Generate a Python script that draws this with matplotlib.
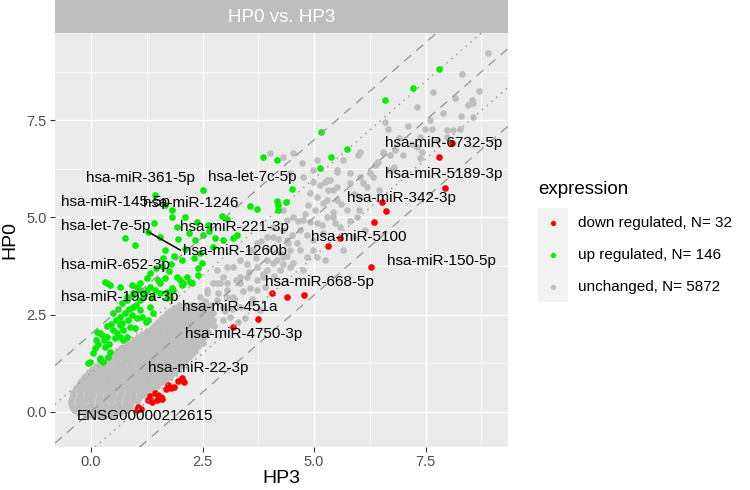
import matplotlib
matplotlib.use("Agg")
import matplotlib.pyplot as plt
from matplotlib.patches import Rectangle
from matplotlib.lines import Line2D

plt.rcParams["font.family"] = ["Liberation Sans", "DejaVu Sans"]

# ── Data (log2 expression, HP3 on x, HP0 on y) ─────────────
groups = ["down regulated", "up regulated", "unchanged"]
group_n = [32, 146, 5872]
group_colors = ["#FF0000", "#00EE00", "#BEBEBE"]

down_x = [8.09, 7.80, 7.94, 6.52, 6.61, 6.35, 5.58, 5.31, 6.28, 4.06, 4.39, 4.78,
          3.74, 3.18,
          2.04, 2.09, 1.95, 1.73, 1.79, 1.86, 1.68, 1.43, 1.50, 1.57, 1.48, 1.59,
          1.32, 1.28, 1.37, 1.05, 1.12, 1.03]
down_y = [6.92, 6.56, 5.76, 5.40, 5.17, 4.88, 4.47, 4.27, 3.72, 3.05, 2.95, 3.00,
          2.38, 2.18,
          0.86, 0.76, 0.79, 0.68, 0.61, 0.63, 0.58, 0.48, 0.43, 0.37, 0.30, 0.32,
          0.40, 0.30, 0.24, 0.12, 0.06, 0.04]

up_x = [7.80, 7.22, 6.59, 5.16, 5.74, 5.38, 5.13, 3.86, 4.17,
        4.51, 4.17, 4.19, 4.19, 4.37, 3.57, 3.72,
        2.51, 1.43, 1.66, 1.82, 1.82, 2.94, 2.38, 1.93, 2.62,
        1.28, 0.76, 2.51, 2.78, 2.33, 2.96, 3.18, 3.27,
        0.99, 1.66, 2.74, 2.44, 2.04, 1.61, 2.49, 2.40,
        1.32, 1.66, 1.93, 2.00, 2.15, 2.26, 2.04, 2.40, 1.26,
        0.31, 0.43, 0.65, 0.92, 1.03, 1.10, 0.94, 1.26, 1.43, 1.55, 1.70, 1.82,
        1.37, 1.10, 0.81, 0.70, 1.70, 1.84,
        0.36, 1.10, 1.32, 1.55, 2.06, 2.22, 0.81, 1.17, 1.77,
        0.94, 1.10, 1.32, 0.92, 1.14, 1.39, 1.28,
        0.65, 0.70, 0.49, 0.72, 0.87, 0.13, 0.25, 0.54, 0.72, 0.31, 0.43, 0.38,
        0.20, -0.02, 0.27, 0.65, 0.81,
        -0.07, 0.20, 0.09, 0.20, 0.36, 0.58, 0.65, 0.83, 1.03,
        0.05, 0.15, 0.30, 0.45, 0.55, 0.75, 0.85, 1.00, 0.60, 0.50, 0.35, 0.95,
        1.20, 1.50, 1.45, 1.60, 1.80, 1.85, 2.10, 2.20, 1.95, 1.55, 1.40, 2.10,
        0.10, 0.40, 0.98, 1.22, 2.30, 2.65, 3.05, 1.75]
up_y = [8.83, 8.34, 8.03, 7.20, 6.77, 6.56, 6.28, 6.56, 6.48,
        5.73, 5.43, 5.32, 5.19, 5.40, 5.30, 5.22,
        5.71, 5.58, 5.32, 5.19, 5.01, 5.04, 4.88, 4.75, 4.81,
        4.63, 4.47, 4.55, 4.47, 4.42, 4.42, 4.47, 4.55,
        4.29, 4.16, 4.24, 4.09, 3.90, 3.96, 3.83, 3.70,
        3.57, 3.44, 3.47, 3.39, 3.47, 3.31, 3.26, 3.52, 3.44,
        3.34, 3.26, 3.21, 3.26, 3.21, 3.13, 3.05, 3.13, 3.13, 3.05, 3.08, 3.18,
        2.95, 2.87, 2.87, 2.80, 2.93, 3.13,
        3.31, 3.31, 3.21, 3.31, 3.31, 3.34, 2.95, 2.95, 2.95,
        2.69, 2.62, 2.69, 2.49, 2.44, 2.54, 2.36,
        2.44, 2.28, 2.10, 2.10, 2.18, 2.05, 1.97, 1.89, 1.84, 1.66, 1.53, 1.40,
        1.38, 1.28, 1.28, 1.92, 1.92,
        1.25, 1.33, 1.64, 2.02, 1.92, 2.02, 2.23, 2.36, 2.41,
        1.50, 1.75, 1.85, 2.25, 2.35, 2.55, 2.65, 2.75, 2.65, 2.55, 2.20, 3.00,
        3.05, 3.40, 3.70, 3.75, 3.80, 4.00, 4.20, 4.60, 4.45, 4.50, 4.85, 5.00,
        1.85, 1.75, 2.15, 2.30, 3.95, 4.65, 4.95, 3.62]

# dense part of the unchanged cloud, read row by row (HP0 level, HP3 values)
cloud_rows = [
    (-0.10, [-0.12, 0.02, 0.17, 0.31, 0.47]),
    (-0.02, [-0.30, -0.15, 0.00, 0.10, 0.25, 0.40, 0.55, 0.68]),
    (0.05, [-0.38, -0.23, -0.08, 0.07, 0.22, 0.37, 0.52, 0.67, 0.80]),
    (0.13, [-0.42, -0.27, -0.12, 0.03, 0.18, 0.33, 0.48, 0.63, 0.78, 0.88]),
    (0.20, [-0.45, -0.30, -0.15, 0.00, 0.15, 0.30, 0.45, 0.60, 0.75, 0.90]),
    (0.28, [-0.45, -0.30, -0.15, 0.00, 0.15, 0.30, 0.45, 0.60, 0.75, 0.90, 1.02]),
    (0.35, [-0.42, -0.27, -0.12, 0.03, 0.18, 0.33, 0.48, 0.63, 0.78, 0.93, 1.08]),
    (0.43, [-0.40, -0.25, -0.10, 0.05, 0.20, 0.35, 0.50, 0.65, 0.80, 0.95, 1.10, 1.18]),
    (0.50, [-0.40, -0.25, -0.10, 0.05, 0.20, 0.35, 0.50, 0.65, 0.80, 0.95, 1.10, 1.25]),
    (0.58, [-0.35, -0.20, -0.05, 0.10, 0.25, 0.40, 0.55, 0.70, 0.85, 1.00, 1.15, 1.30, 1.40]),
    (0.65, [-0.30, -0.15, 0.00, 0.15, 0.30, 0.45, 0.60, 0.75, 0.90, 1.05, 1.20, 1.35, 1.48]),
    (0.73, [-0.25, -0.10, 0.05, 0.20, 0.35, 0.50, 0.65, 0.80, 0.95, 1.10, 1.25, 1.40, 1.55]),
    (0.80, [-0.22, -0.07, 0.08, 0.23, 0.38, 0.53, 0.68, 0.83, 0.98, 1.13, 1.28, 1.43, 1.58, 1.66]),
    (0.88, [-0.15, 0.00, 0.15, 0.30, 0.45, 0.60, 0.75, 0.90, 1.05, 1.20, 1.35, 1.50, 1.65, 1.74]),
    (0.95, [-0.10, 0.05, 0.20, 0.35, 0.50, 0.65, 0.80, 0.95, 1.10, 1.25, 1.40, 1.55, 1.70, 1.80]),
    (1.03, [-0.05, 0.10, 0.25, 0.40, 0.55, 0.70, 0.85, 1.00, 1.15, 1.30, 1.45, 1.60, 1.75, 1.88]),
    (1.10, [0.02, 0.17, 0.32, 0.47, 0.62, 0.77, 0.92, 1.07, 1.22, 1.37, 1.52, 1.67, 1.82, 1.95]),
    (1.18, [0.12, 0.27, 0.42, 0.57, 0.72, 0.87, 1.02, 1.17, 1.32, 1.47, 1.62, 1.77, 1.92, 2.02]),
    (1.25, [0.25, 0.40, 0.55, 0.70, 0.85, 1.00, 1.15, 1.30, 1.45, 1.60, 1.75, 1.90, 2.05]),
    (1.33, [0.32, 0.47, 0.62, 0.77, 0.92, 1.07, 1.22, 1.37, 1.52, 1.67, 1.82, 1.97, 2.12]),
    (1.40, [0.42, 0.57, 0.72, 0.87, 1.02, 1.17, 1.32, 1.47, 1.62, 1.77, 1.92, 2.07, 2.20]),
    (1.48, [0.50, 0.65, 0.80, 0.95, 1.10, 1.25, 1.40, 1.55, 1.70, 1.85, 2.00, 2.15, 2.26]),
    (1.55, [0.58, 0.73, 0.88, 1.03, 1.18, 1.33, 1.48, 1.63, 1.78, 1.93, 2.08, 2.22, 2.32]),
    (1.63, [0.68, 0.83, 0.98, 1.13, 1.28, 1.43, 1.58, 1.73, 1.88, 2.03, 2.18, 2.34]),
    (1.70, [0.78, 0.93, 1.08, 1.23, 1.38, 1.53, 1.68, 1.83, 1.98, 2.13, 2.28, 2.40]),
    (1.78, [0.88, 1.03, 1.18, 1.33, 1.48, 1.63, 1.78, 1.93, 2.08, 2.23, 2.38, 2.45]),
    (1.85, [0.97, 1.12, 1.27, 1.42, 1.57, 1.72, 1.87, 2.02, 2.17, 2.32, 2.47]),
    (1.93, [1.06, 1.21, 1.36, 1.51, 1.66, 1.81, 1.96, 2.11, 2.26, 2.41, 2.53]),
    (2.00, [1.15, 1.30, 1.45, 1.60, 1.75, 1.90, 2.05, 2.20, 2.35, 2.50, 2.58]),
    (2.08, [1.25, 1.40, 1.55, 1.70, 1.85, 2.00, 2.15, 2.30, 2.45, 2.58]),
    (2.15, [1.37, 1.52, 1.67, 1.82, 1.97, 2.12, 2.27, 2.42, 2.57]),
    (2.23, [1.44, 1.59, 1.74, 1.89, 2.04, 2.19, 2.34, 2.49, 2.62]),
    (2.30, [1.50, 1.65, 1.80, 1.95, 2.10, 2.25, 2.40, 2.55, 2.66]),
    (2.38, [1.56, 1.71, 1.86, 2.01, 2.16, 2.31, 2.46, 2.61]),
    (2.45, [1.62, 1.77, 1.92, 2.07, 2.22, 2.37, 2.52, 2.68]),
    (2.53, [1.70, 1.85, 2.00, 2.15, 2.30, 2.45, 2.62]),
    (2.60, [1.78, 1.93, 2.08, 2.23, 2.38, 2.53, 2.70]),
    (2.68, [1.86, 2.01, 2.16, 2.31, 2.46, 2.62]),
    (2.75, [1.97, 2.12, 2.27, 2.42, 2.60]),
]

# sparse part of the unchanged cloud
sparse_x = [4.98, 5.13, 5.25, 5.31, 5.52, 4.91, 5.07, 5.29, 5.52, 4.87, 5.02, 5.43,
            5.29, 4.91, 5.18, 5.47, 4.69, 4.84, 4.98, 4.62, 4.24, 4.46, 4.69, 4.84,
            5.07, 5.25, 3.95, 4.17, 3.72, 3.95, 4.24, 4.46, 3.50, 3.72, 3.34, 3.57,
            3.05, 3.18, 2.83, 2.96, 3.34, 3.63, 2.60, 2.74, 3.12, 4.30, 4.39, 4.53,
            4.08, 3.95, 3.72, 3.57, 3.34, 3.18, 2.96, 2.83, 2.60, 2.44,
            6.55, 6.41, 6.70, 6.32, 6.19, 5.81, 6.03, 5.52, 5.29, 5.43, 5.20, 4.75,
            5.07, 5.43, 5.74, 5.96, 4.39, 4.98, 4.30, 4.53, 4.08, 3.86, 3.72, 5.65,
            5.87, 6.14, 5.20, 5.58, 4.75, 4.01, 4.30, 4.53, 4.73, 4.75, 4.46, 4.98,
            5.07,
            8.90, 8.32, 7.67, 7.31, 8.70, 8.54, 8.57, 8.16, 8.45, 8.57, 7.98, 8.12,
            8.27, 7.65, 7.49, 7.38, 7.98, 7.76, 7.31, 7.42, 7.38, 6.59, 6.66, 6.55,
            6.70, 6.82, 6.43, 6.37, 6.03, 5.99, 5.65, 5.52, 5.81, 6.03, 6.26, 5.36,
            1.93, 2.15, 2.38, 2.51, 2.62, 2.29, 2.06, 2.44, 2.74,
            2.83, 3.05, 3.63, 3.05, 3.34, 2.74, 2.60, 3.05, 4.08, 4.30, 4.42,
            3.45, 3.79, 3.30,
            2.70, 2.85, 2.55, 3.00, 3.20, 3.40, 3.55, 3.25, 2.90, 3.70, 3.85, 4.00,
            3.60, 3.90, 4.10, 4.30, 4.50, 4.65, 4.80, 2.75, 2.95, 3.15, 2.45, 2.60,
            3.50, 4.20, 4.40, 3.80, 5.60, 5.90, 6.10, 5.80, 6.00, 6.45, 6.80, 7.00,
            7.20, 7.60, 7.90, 8.30, 6.90, 7.10]
sparse_y = [5.91, 5.84, 5.91, 5.71, 5.79, 5.63, 5.53, 5.45, 5.45, 5.32, 5.19, 5.14,
            5.01, 4.88, 4.81, 4.86, 4.68, 4.55, 4.42, 4.34, 4.09, 4.16, 4.16, 3.98,
            3.98, 3.90, 3.90, 3.90, 3.72, 3.65, 3.65, 3.72, 3.47, 3.39, 3.31, 3.18,
            3.13, 2.95, 2.87, 2.69, 2.69, 2.80, 2.62, 2.54, 2.44, 5.19, 4.94, 5.01,
            4.75, 4.50, 4.34, 4.16, 3.90, 3.72, 3.47, 3.31, 3.13, 2.95,
            6.66, 6.41, 6.22, 6.04, 5.79, 5.89, 5.53, 6.22, 5.97, 5.71, 5.37, 4.94,
            4.86, 5.01, 5.19, 5.01, 4.42, 4.16, 3.98, 3.83, 3.83, 3.47, 3.13, 4.16,
            4.50, 4.68, 4.60, 4.75, 3.65, 6.66, 6.56, 6.66, 6.41, 6.04, 6.15, 6.22,
            6.48,
            9.24, 8.70, 8.23, 7.85, 8.26, 8.03, 7.95, 8.08, 7.90, 7.59, 7.25, 7.25,
            7.28, 7.28, 7.28, 7.07, 7.07, 7.00, 6.82, 6.69, 6.53, 7.46, 7.28, 6.69,
            6.61, 6.74, 6.43, 6.35, 6.69, 6.61, 6.48, 6.17, 6.14, 6.04, 6.14, 5.97,
            2.28, 2.15, 2.02, 1.77, 2.05, 2.36, 1.92, 2.28, 2.36,
            3.65, 3.72, 4.16, 3.31, 3.47, 3.31, 3.05, 2.95, 4.50, 4.68, 4.34,
            2.41, 2.62, 2.30,
            2.75, 3.05, 2.85, 2.60, 2.90, 3.10, 3.60, 3.40, 3.30, 3.95, 3.55, 4.20,
            2.90, 3.20, 3.50, 3.80, 4.55, 4.90, 5.10, 2.20, 2.35, 2.65, 2.55, 2.40,
            3.80, 4.45, 4.00, 4.40, 5.35, 5.60, 5.90, 4.90, 5.20, 5.70, 6.30, 6.60,
            6.90, 7.50, 7.70, 7.60, 7.05, 7.35]

grey_x = [x for _, xs in cloud_rows for x in xs] + sparse_x
grey_y = [y for y, xs in cloud_rows for _ in xs] + sparse_y

# labelled genes (label positions as placed by the repel layout)
label_text = ["hsa-miR-6732-5p", "hsa-miR-5189-3p", "hsa-miR-342-3p", "hsa-miR-5100",
              "hsa-miR-150-5p", "hsa-miR-668-5p", "hsa-miR-451a", "hsa-miR-4750-3p",
              "hsa-miR-22-3p", "ENSG00000212615", "hsa-miR-199a-3p", "hsa-miR-652-3p",
              "hsa-let-7e-5p", "hsa-miR-145-5p", "hsa-miR-1246", "hsa-miR-361-5p",
              "hsa-let-7c-5p", "hsa-miR-221-3p", "hsa-miR-1260b"]
label_x = [7.90, 7.90, 6.96, 6.01, 7.85, 5.13, 3.12, 3.41, 2.41, 1.21, 0.65, 0.54,
           0.33, 0.55, 2.24, 1.11, 3.61, 3.21, 3.23]
label_y = [6.92, 6.12, 5.50, 4.50, 3.88, 3.34, 2.69, 2.01, 1.12, -0.12, 2.95, 3.78,
           4.78, 5.40, 5.37, 6.02, 6.04, 4.75, 4.14]
# segment from the hsa-miR-1260b point to its label
seg_x = [1.28, 2.00]
seg_y = [4.63, 4.16]

dashed_b = [0, 2, -2]
dotted_b = [1, -1]

# ── Figure ─────────────────────────────────────────────────
W, H = 750, 490
fig = plt.figure(figsize=(7.5, 4.9), dpi=100)
L, R, T, B = 55, 508, 33, 447
ax = fig.add_axes([L / W, 1 - B / H, (R - L) / W, (B - T) / H])
ax.set_facecolor("#EBEBEB")
for s in ax.spines.values():
    s.set_visible(False)

ax.set_xlim(-0.81, 9.35)
ax.set_ylim(-0.91, 9.75)
ticks = [0, 2.5, 5, 7.5]
minor = [1.25, 3.75, 6.25, 8.75]
ax.set_xticks(ticks)
ax.set_yticks(ticks)
ax.set_xticklabels(["0.0", "2.5", "5.0", "7.5"])
ax.set_yticklabels(["0.0", "2.5", "5.0", "7.5"])
ax.set_xticks(minor, minor=True)
ax.set_yticks(minor, minor=True)
ax.grid(which="major", color="white", lw=1.0)
ax.grid(which="minor", color="white", lw=0.5)
ax.set_axisbelow(True)
ax.tick_params(which="major", length=3.6, width=0.8, color="#333333",
               labelsize=10.5, labelcolor="#4D4D4D", pad=2.5)
ax.tick_params(which="minor", length=0)

ms = 23
ax.scatter(grey_x, grey_y, s=ms, c=group_colors[2], linewidths=0, zorder=2)
ax.scatter(up_x, up_y, s=ms, c=group_colors[1], linewidths=0, zorder=3)
ax.scatter(down_x, down_y, s=ms, c=group_colors[0], linewidths=0, zorder=3)

for b in dashed_b:
    ax.axline((0, b), slope=1, color="#9A9A9A", lw=1.0, dashes=(6.5, 5), zorder=4)
for b in dotted_b:
    ax.axline((0, b), slope=1, color="#9A9A9A", lw=1.2, dashes=(0.8, 3.0), zorder=4)

ax.plot(seg_x, seg_y, color="black", lw=1.1, zorder=5)
for t, x, y in zip(label_text, label_x, label_y):
    ax.text(x, y, t, fontsize=11, ha="center", va="center", color="black", zorder=6)

ax.set_xlabel("HP3", fontsize=14, color="black")
ax.set_ylabel("HP0", fontsize=14, color="black")
ax.xaxis.label.set_va("center")
ax.xaxis.set_label_coords(0.5, (B - 478) / (B - T))
ax.yaxis.label.set_va("center")
ax.yaxis.set_label_coords((10 - L) / (R - L), 0.5)

# ── Facet strip ────────────────────────────────────────────
fig.add_artist(Rectangle((L / W, 1 - T / H), (R - L) / W, T / H,
                         transform=fig.transFigure, facecolor="#BEBEBE",
                         edgecolor="none"))
fig.text((L + R) / 2 / W, 1 - 17 / H, "HP0 vs. HP3", fontsize=13.5,
         color="white", ha="center", va="center")

# ── Legend ─────────────────────────────────────────────────
fig.text(538 / W, 1 - 190 / H, "expression", fontsize=13.5, ha="left",
         va="center")
fig.add_artist(Rectangle((538 / W, 1 - 302 / H), 30 / W, 94 / H,
                         transform=fig.transFigure, facecolor="#F2F2F2",
                         edgecolor="none"))
for i, (g, n, c) in enumerate(zip(groups, group_n, group_colors)):
    yk = 1 - (223 + 32 * i) / H
    fig.add_artist(Line2D([553 / W], [yk], marker="o", markersize=3.8,
                          markerfacecolor=c, markeredgewidth=0,
                          linestyle="none", transform=fig.transFigure))
    fig.text(578 / W, yk, f"{g}, N= {n}", fontsize=11, ha="left", va="center")

fig.savefig("out.png", dpi=100)
